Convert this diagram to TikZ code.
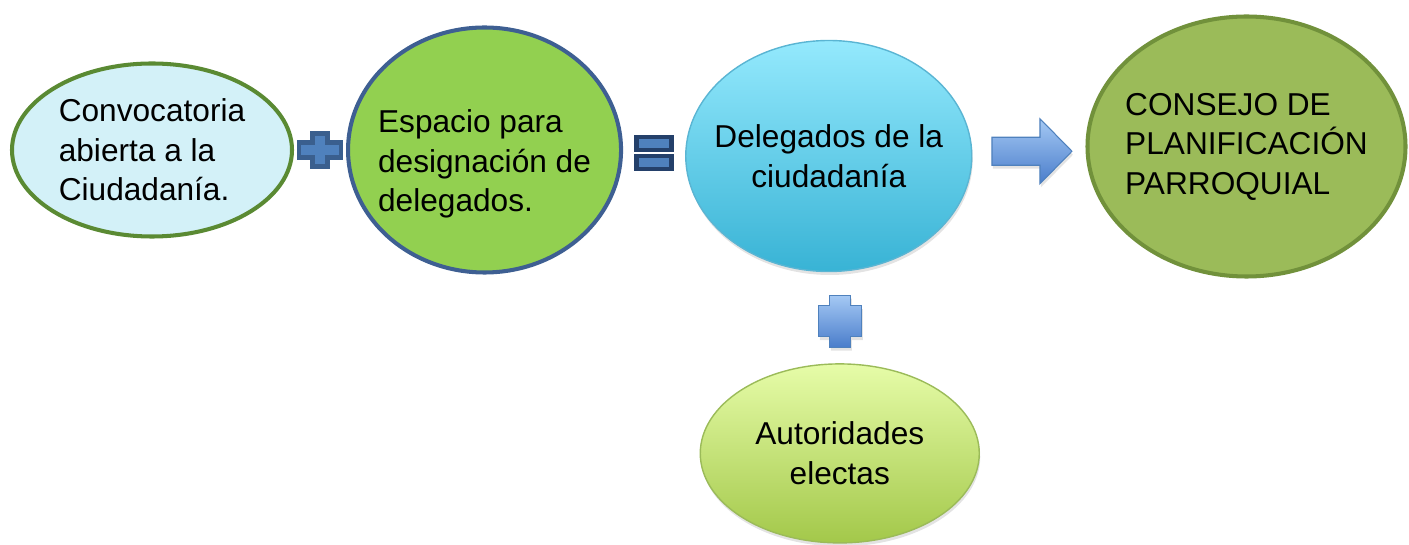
\documentclass[tikz,border=0pt]{standalone}
\usepackage{fontspec}
\setmainfont{Liberation Sans}
\usetikzlibrary{positioning,shapes.geometric,calc,shadows}

\definecolor{convFill}{HTML}{D3F1F8}
\definecolor{convLine}{HTML}{5A8A33}
\definecolor{espFill}{HTML}{92D050}
\definecolor{espLine}{HTML}{3E5F92}
\definecolor{delTop}{HTML}{94E9FD}
\definecolor{delBottom}{HTML}{38B3D5}
\definecolor{delLine}{HTML}{5AB5D3}
\definecolor{consFill}{HTML}{9BBB59}
\definecolor{consLine}{HTML}{71913B}
\definecolor{autTop}{HTML}{E6FCA8}
\definecolor{autBottom}{HTML}{A3C84A}
\definecolor{autLine}{HTML}{9BBB59}
\definecolor{symFill}{HTML}{4F81BD}
\definecolor{plusLine}{HTML}{3A5F8E}
\definecolor{eqLine}{HTML}{24406A}
\definecolor{arrTop}{HTML}{A5C9F4}
\definecolor{arrBottom}{HTML}{4A7DCB}

\tikzset{
  softshadow/.style={drop shadow={opacity=0.22,shadow xshift=0.02cm,shadow yshift=-0.07cm}},
  plussign/.pic={
    \draw[line width=2.8pt, draw=plusLine, fill=symFill]
      (-0.42,-0.15) -- (-0.15,-0.15) -- (-0.15,-0.33) -- (0.15,-0.33) -- (0.15,-0.15) -- (0.42,-0.15)
      -- (0.42,0.15) -- (0.15,0.15) -- (0.15,0.33) -- (-0.15,0.33) -- (-0.15,0.15) -- (-0.42,0.15) -- cycle;
  },
  equalsign/.pic={
    \draw[line width=2.8pt, draw=eqLine, fill=symFill] (-0.35,0.06) rectangle (0.35,0.32);
    \draw[line width=2.8pt, draw=eqLine, fill=symFill] (-0.35,-0.32) rectangle (0.35,-0.06);
  },
  rightarrow/.pic={
    \draw[softshadow, draw=symFill, line width=0.6pt, top color=arrTop, bottom color=arrBottom]
      (-0.8,-0.28) -- (0.16,-0.28) -- (0.16,-0.65) -- (0.8,0) -- (0.16,0.65) -- (0.16,0.28) -- (-0.8,0.28) -- cycle;
  },
  bluecross/.pic={
    \draw[softshadow, draw=symFill, line width=0.6pt, top color=arrTop, bottom color=arrBottom]
      (-0.43,-0.31) -- (-0.21,-0.31) -- (-0.21,-0.52) -- (0.21,-0.52) -- (0.21,-0.31) -- (0.43,-0.31)
      -- (0.43,0.31) -- (0.21,0.31) -- (0.21,0.52) -- (-0.21,0.52) -- (-0.21,0.31) -- (-0.43,0.31) -- cycle;
  }
}

\begin{document}
\begin{tikzpicture}[
  bubble/.style={ellipse, inner xsep=-0.3cm, inner ysep=0pt, font=\fontsize{18}{22.5}\selectfont},
  thickring/.style={draw=#1, line width=2.3pt},
  thinring/.style={draw=#1, line width=0.8pt, softshadow}
]
 \useasboundingbox (0,0) rectangle (28.18,10.88);
 \node[bubble, thickring=convLine, fill=convFill, minimum width=5.6cm, minimum height=3.46cm, align=left] (conv) at (3.04,7.88)
   {Convocatoria\\abierta a la\\Ciudadanía.};
 \node[bubble, thickring=espLine, fill=espFill, minimum width=5.46cm, minimum height=4.9cm, align=left, right=1.04cm of conv] (esp)
   {\rule{0pt}{29pt}Espacio para\\designación de\\delegados.};
 \node[bubble, thinring=delLine, top color=delTop, bottom color=delBottom, minimum width=5.72cm, minimum height=4.62cm, align=center,
   right=1.24cm of esp, yshift=-0.12cm] (del)
   {Delegados de la\\ciudadanía};
 \node[bubble, thickring=consLine, fill=consFill, minimum width=6.36cm, minimum height=5.2cm, align=left,
   right=2.26cm of del, yshift=0.19cm] (cons)
   {CONSEJO DE\\PLANIFICACIÓN\\PARROQUIAL};
 \node[bubble, thinring=autLine, top color=autTop, bottom color=autBottom, minimum width=5.58cm, minimum height=3.58cm, align=center,
   below=1.82cm of del, xshift=0.22cm] (aut)
   {Autoridades\\electas};

 \coordinate (plusA) at ($(conv.east)!0.5!(esp.west)$);
 \coordinate (eqA) at ($(esp.east)!0.5!(del.west)$);
 \coordinate (arrA) at ($(del.east)!0.5!(cons.west) + (0.06,0)$);
 \coordinate (plusB) at ($(del.south)!0.5!(aut.north) + (0.12,-0.07)$);
 \pic at (plusA) {plussign};
 \pic at (eqA) {equalsign};
 \pic at (arrA) {rightarrow};
 \pic at (plusB) {bluecross};
\end{tikzpicture}
\end{document}
